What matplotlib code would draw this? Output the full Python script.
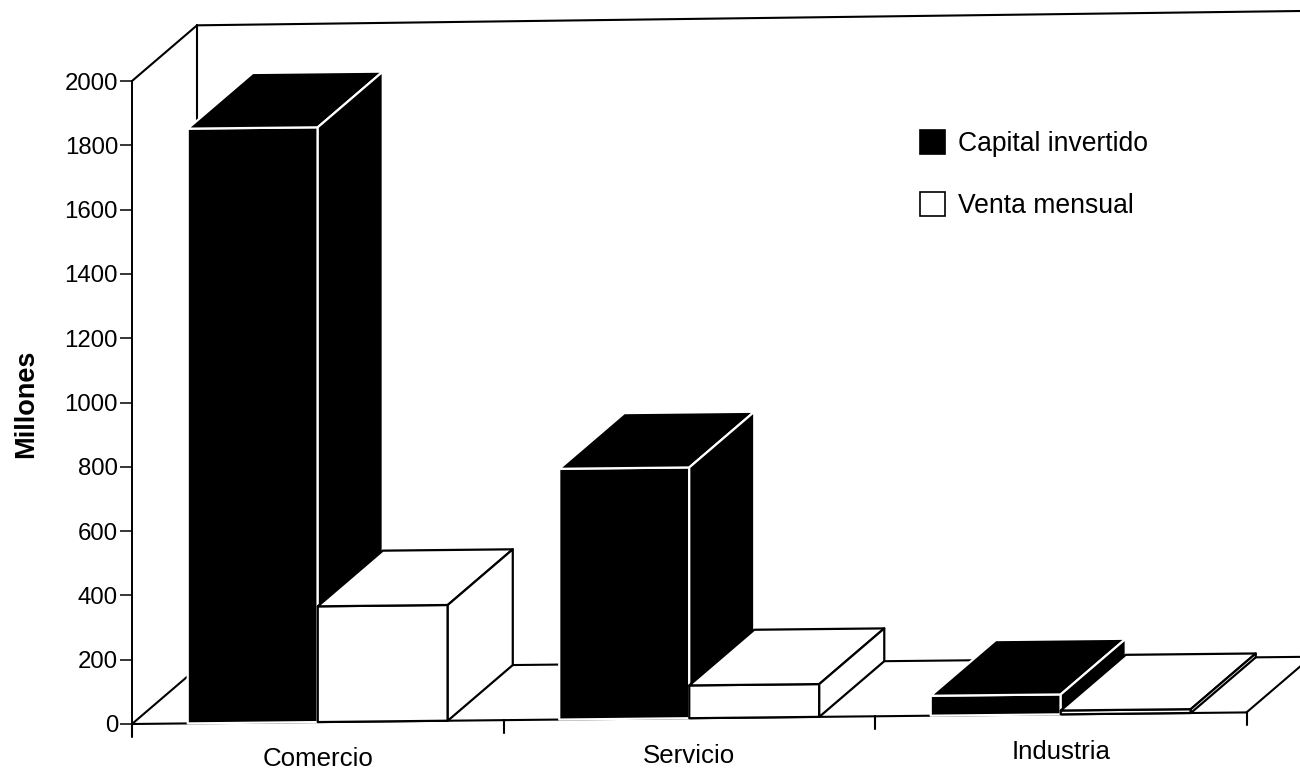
import matplotlib
matplotlib.use("Agg")
import matplotlib.pyplot as plt
from matplotlib.patches import Polygon, Patch
from matplotlib.transforms import Affine2D

categories = ["Comercio", "Servicio", "Industria"]
capital = [1850, 780, 62]
venta = [360, 102, 12]
yticks = list(range(0, 2001, 200))
labels = ["Capital invertido", "Venta mensual"]

W, H = 1300, 771
plt.rcParams['font.family'] = ['Liberation Sans', 'DejaVu Sans']
fig = plt.figure(figsize=(W / 100, H / 100), dpi=100, facecolor='white')
# axes spans px x 132..1300, y 81..724
ax = fig.add_axes([132 / W, (H - 724) / H, (W - 132) / W, (724 - 81) / H])
unit_x = 371.5
ax.set_xlim(0, (W - 132) / unit_x)
ax.set_ylim(0, 2000)
ax.patch.set_visible(False)
for s in ['top', 'right', 'bottom']:
    ax.spines[s].set_visible(False)
ax.spines['left'].set_linewidth(1.4)
ax.set_xticks([])
ax.set_yticks(yticks)
ax.tick_params(axis='y', length=8.5, width=1.1, labelsize=17.3, pad=1.5)
ax.set_ylabel("Millones", fontsize=19.5, fontweight='bold', labelpad=0)
ax.yaxis.set_label_coords(-93 / (W - 132), (724 - 404) / 643)

# the scan drifts upward to the right
drift = 12.0  # value units per category
shear = Affine2D.from_values(1, drift, 0, 1, 0, 0) + ax.transData
depth_x = 65 / unit_x
depth_y = 55 / (643 / 2000)
gap = 0.15
bw = 0.35


def line(xs, ys, **kw):
    kw.setdefault('color', 'black')
    kw.setdefault('lw', 1.5)
    ax.plot(xs, ys, transform=shear, clip_on=False, solid_capstyle='round', **kw)


# walls and floor
end = len(categories)
line([0, depth_x], [2000, 2000 + depth_y], zorder=1)
line([depth_x, depth_x + 4], [2000 + depth_y, 2000 + depth_y + 12], zorder=1)
line([depth_x, depth_x], [depth_y, 2000 + depth_y], zorder=1)
line([0, end], [0, 0], zorder=1)
line([depth_x, end + depth_x], [depth_y, depth_y], zorder=1)
line([0, depth_x], [0, depth_y], zorder=1)
line([end, end + depth_x], [0, depth_y], zorder=1)
for i in range(end + 1):
    line([i, i], [0, -40], zorder=1)
for i, c in enumerate(categories):
    ax.text(i + 0.5, -116, c, transform=shear, ha='center', va='center',
            fontsize=18.6, clip_on=False)


def box(x0, v, fc, ec, z):
    x1 = x0 + bw
    faces = [
        [(x0, 0), (x1, 0), (x1, v), (x0, v)],
        [(x0, v), (x1, v), (x1 + depth_x, v + depth_y), (x0 + depth_x, v + depth_y)],
        [(x1, 0), (x1 + depth_x, depth_y), (x1 + depth_x, v + depth_y), (x1, v)],
    ]
    for f in faces:
        ax.add_patch(Polygon(f, closed=True, facecolor=fc, edgecolor=ec, lw=1.6,
                             transform=shear, clip_on=False, zorder=z, joinstyle='round'))


for i in range(len(categories)):
    box(i + gap, capital[i], 'black', 'white', 2 + i * 2)
    box(i + gap + bw, venta[i], 'white', 'black', 3 + i * 2)

handles = [Patch(facecolor='black', edgecolor='black', lw=1.2),
           Patch(facecolor='white', edgecolor='black', lw=1.2)]
fig.legend(handles, labels, loc='upper left', frameon=False, fontsize=19.1,
           bbox_to_anchor=(915 / W, (H - 125) / H), borderaxespad=0, borderpad=0.2,
           handlelength=0.93, handleheight=1.0, handletextpad=0.5, labelspacing=1.31)

fig.savefig("out.png", dpi=100, facecolor='white')
